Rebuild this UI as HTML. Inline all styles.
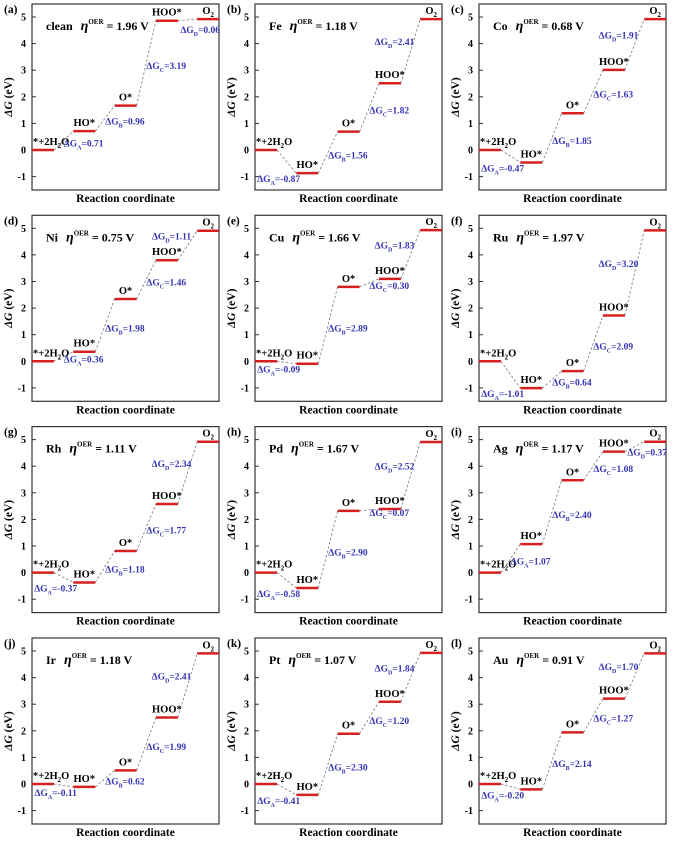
<!DOCTYPE html>
<html><head><meta charset="utf-8">
<style>
html,body{margin:0;padding:0;background:#fff;}
svg{display:block;font-family:"Liberation Serif",serif;font-weight:bold;}
</style></head>
<body>
<svg id="fig" width="686" height="842" viewBox="0 0 686 842" xmlns="http://www.w3.org/2000/svg"></svg>
<script>
const panelLetters = ["a","b","c","d","e","f","g","h","i","j","k","l"];
const metals = ["clean","Fe","Co","Ni","Cu","Ru","Rh","Pd","Ag","Ir","Pt","Au"];
const etas = ["1.96","1.18","0.68","0.75","1.66","1.97","1.11","1.67","1.17","1.18","1.07","0.91"];
const dGA = [0.71,-0.87,-0.47,0.36,-0.09,-1.01,-0.37,-0.58,1.07,-0.11,-0.41,-0.20];
const dGB = [0.96,1.56,1.85,1.98,2.89,0.64,1.18,2.90,2.40,0.62,2.30,2.14];
const dGC = [3.19,1.82,1.63,1.46,0.30,2.09,1.77,0.07,1.08,1.99,1.20,1.27];
const dGD = [0.06,2.41,1.91,1.11,1.83,3.20,2.34,2.52,0.37,2.41,1.84,1.70];
const yTicks = [5,4,3,2,1,0,-1];
const species = ["*+2H2O","HO*","O*","HOO*","O2"];
const stepNames = ["A","B","C","D"];

const NS = "http://www.w3.org/2000/svg";
const svg = document.getElementById("fig");
function mk(tag, attrs, parent){
  const e = document.createElementNS(NS, tag);
  for (const k in attrs) e.setAttribute(k, attrs[k]);
  (parent||svg).appendChild(e);
  return e;
}
const colX = [32,255,479];
const rowTop = [4,215.3,426.6,638];
const FW = 187, FH = 186;
const PXE = 26.6;

for (let p=0; p<12; p++){
  const fx = colX[p%3], ft = rowTop[Math.floor(p/3)];
  const y0 = ft + 146;
  const yS = v => y0 - v*PXE;
  const xS = i => fx + i*41.3;
  const g = mk("g", {});
  
  
  const fr = mk("rect", {x:fx, y:ft, width:FW, height:FH, fill:"none", stroke:"#333", "stroke-width":1.2}, g);
  
  
  const pl = mk("text", {x:fx-28, y:ft+9, "font-size":11.5}, g);
  pl.textContent = "(" + panelLetters[p] + ")";
  
  
  yTicks.forEach(t=>{
    const tk = mk("line", {x1:fx, x2:fx+4, y1:yS(t), y2:yS(t), stroke:"#333", "stroke-width":1}, g);
    
    
    const tl = mk("text", {x:fx-6, y:yS(t)+3.5, "font-size":10, "text-anchor":"end"}, g);
    tl.textContent = t;
    
    
  });
  const yt = mk("text", {x:0, y:0, "font-size":11.5, "text-anchor":"middle", transform:`translate(${fx-20},${ft+93}) rotate(-90)`}, g);
  yt.innerHTML = '<tspan font-style="italic">ΔG</tspan> (eV)';
  
  
  const xt = mk("text", {x:fx+FW/2, y:ft+FH+12, "font-size":11.5, "text-anchor":"middle"}, g);
  xt.textContent = "Reaction coordinate";
  
  
  const ti = mk("text", {x:fx+14, y:ft+26, "font-size":12}, g);
  ti.innerHTML = metals[p] + '<tspan dx="8" font-style="italic" font-size="14">η</tspan><tspan dy="-6" font-size="7">OER</tspan><tspan dy="6"> = ' + etas[p] + ' V</tspan>';
  
  

  const steps = [dGA[p], dGB[p], dGC[p], dGD[p]];
  const levels = [0];
  steps.forEach(s=>levels.push(levels[levels.length-1]+s));
  for (let i=0;i<4;i++){
    const c = mk("line", {x1:xS(i)+22, y1:yS(levels[i]), x2:xS(i+1), y2:yS(levels[i+1]), stroke:"#777", "stroke-width":0.8, "stroke-dasharray":"2.5,2"}, g);
    
    
  }
  for (let i=0;i<5;i++){
    const w = i===4 ? FW-i*41.3 : 22;
    const l = mk("line", {x1:xS(i), x2:xS(i)+w, y1:yS(levels[i]), y2:yS(levels[i]), stroke:"#d42020", "stroke-width":2.5}, g);
    
    
    const sl = mk("text", {x: i===0 ? xS(i)+1 : xS(i)+11, y:yS(levels[i])-5, "font-size":10.5, "text-anchor": i===0?"start":"middle"}, g);
    if (i===0) sl.innerHTML = '*+2H<tspan dy="3" font-size="7">2</tspan><tspan dy="-3">O</tspan>';
    else if (i===4) sl.innerHTML = 'O<tspan dy="3" font-size="7">2</tspan>';
    else sl.textContent = species[i];
    
    
  }
  for (let i=0;i<4;i++){
    const s = steps[i];
    const midX = xS(i)+22+(xS(i+1)-xS(i)-22)/2;
    const midY = yS((levels[i]+levels[i+1])/2);
    let cx, cy;
    if (s < 0){ cx = midX-8; cy = yS(levels[i+1])+9; }
    else if (i===3 && s < 0.5){ cx = xS(4)+3; cy = yS(levels[4])+14; }
    else if (i===3){ cx = midX-16; cy = midY-6; }
    else { cx = midX+20; cy = midY+6; }
    const dl = mk("text", {x:cx, y:cy, "font-size":9.5, fill:"#3535b5", "text-anchor":"middle"}, g);
    dl.innerHTML = 'ΔG<tspan dy="3" font-size="6">' + stepNames[i] + '</tspan><tspan dy="-3">=' + s.toFixed(2) + '</tspan>';
    
    
  }
}
</script>
</body></html>
